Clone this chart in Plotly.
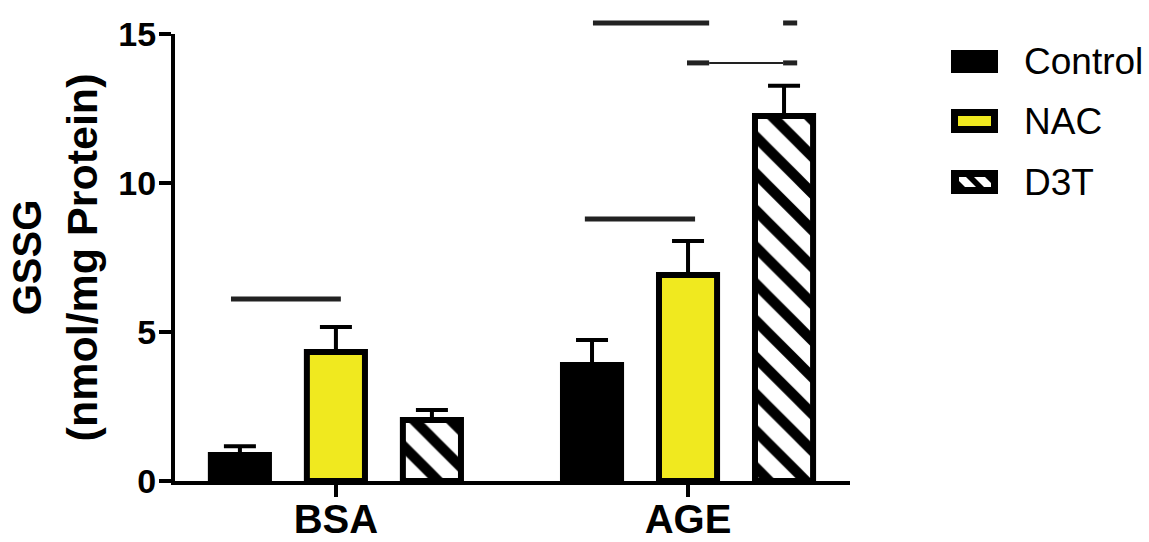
import plotly.graph_objects as go

# ---- data -------------------------------------------------------------
groups = ["BSA", "AGE"]
series = ["Control", "NAC", "D3T"]

mean_control = [0.87, 3.89]
mean_nac = [4.33, 6.91]
mean_d3t = [2.05, 12.25]

sem_control = [0.30, 0.84]
sem_nac = [0.84, 1.14]
sem_d3t = [0.33, 1.01]

y_ticks = [0, 5, 10, 15]

# comparison bars: (x start, x end) in category units, y in data units, line width
bracket_x0 = [-0.298, 0.707, 0.730, 1.270, 0.997, 1.060, 1.270]
bracket_x1 = [0.014, 1.020, 1.060, 1.310, 1.060, 1.270, 1.310]
bracket_y = [6.11, 8.79, 15.37, 15.37, 14.03, 14.03, 14.03]
bracket_w = [5, 5, 5, 5, 5, 2, 5]

# ---- style ------------------------------------------------------------
FONT = "Arial, 'Liberation Sans', Helvetica, sans-serif"
YELLOW = "#F0E91F"
X_RANGE = [-0.457, 1.460]
Y_RANGE = [0, 15]
W, H = 1149, 542
M_L, M_R, M_T, M_B = 175, 299, 34, 61
PLOT_W = W - M_L - M_R
PLOT_H = H - M_T - M_B


def x_paper(v):
    return (v - X_RANGE[0]) / (X_RANGE[1] - X_RANGE[0])


def y_paper(v):
    return (v - Y_RANGE[0]) / (Y_RANGE[1] - Y_RANGE[0])


def px_x(px):
    return (px - M_L) / PLOT_W


def px_y(py):
    return (H - M_B - py) / PLOT_H


def err(vals):
    return dict(type="data", array=vals, arrayminus=[0] * len(vals),
                symmetric=False, color="black", thickness=4, width=16)


fig = go.Figure()
fig.add_bar(x=groups, y=mean_control, name=series[0],
            marker=dict(color="black", line=dict(color="black", width=6)),
            error_y=err(sem_control))
fig.add_bar(x=groups, y=mean_nac, name=series[1],
            marker=dict(color=YELLOW, line=dict(color="black", width=6)),
            error_y=err(sem_nac))
fig.add_bar(x=groups, y=mean_d3t, name=series[2],
            marker=dict(color="white", line=dict(color="black", width=6),
                        pattern=dict(shape="\\", fgcolor="black", bgcolor="white",
                                     fgopacity=1, size=26, solidity=0.4,
                                     fillmode="replace")),
            error_y=err(sem_d3t))

# significance bars, placed in paper space so they can sit above the axis top
shapes = []
for x0, x1, yv, lw in zip(bracket_x0, bracket_x1, bracket_y, bracket_w):
    shapes.append(dict(type="line", xref="paper", yref="paper",
                       x0=x_paper(x0), x1=x_paper(x1),
                       y0=y_paper(yv), y1=y_paper(yv),
                       line=dict(color="#222222", width=lw)))

# ---- legend (drawn by hand for large swatches) ------------------------
sw_x0, sw_x1 = 951, 998
sw_rows = [(50, 73), (109, 133), (170, 194)]
annotations = []


def rect(x0, y0, x1, y1, fill, lw=0):
    return dict(type="rect", xref="paper", yref="paper",
                x0=px_x(x0), x1=px_x(x1), y0=px_y(y1), y1=px_y(y0),
                fillcolor=fill, line=dict(color="black", width=lw))


def clip_poly(poly, xmin, ymin, xmax, ymax):
    def clip(pts, inside, inter):
        out = []
        for i in range(len(pts)):
            a, b = pts[i - 1], pts[i]
            if inside(b):
                if not inside(a):
                    out.append(inter(a, b))
                out.append(b)
            elif inside(a):
                out.append(inter(a, b))
        return out

    def ix(xc):
        return lambda a, b: (xc, a[1] + (b[1] - a[1]) * (xc - a[0]) / (b[0] - a[0]))

    def iy(yc):
        return lambda a, b: (a[0] + (b[0] - a[0]) * (yc - a[1]) / (b[1] - a[1]), yc)

    pts = clip(poly, lambda p: p[0] >= xmin, ix(xmin))
    pts = clip(pts, lambda p: p[0] <= xmax, ix(xmax))
    pts = clip(pts, lambda p: p[1] >= ymin, iy(ymin))
    pts = clip(pts, lambda p: p[1] <= ymax, iy(ymax))
    return pts


# Control
r0 = sw_rows[0]
shapes.append(rect(sw_x0, r0[0], sw_x1, r0[1], "black"))
# NAC
r1 = sw_rows[1]
shapes.append(rect(sw_x0 + 3.5, r1[0] + 3.5, sw_x1 - 3.5, r1[1] - 3.5, YELLOW, 7))
# D3T: black frame with white diagonal bands
r2 = sw_rows[2]
shapes.append(rect(sw_x0, r2[0], sw_x1, r2[1], "black"))
ix0, ix1, iy0, iy1 = sw_x0 + 8, sw_x1 - 7, r2[0] + 7, r2[1] - 7
for start in (ix0 - 4, ix0 + 15, ix0 + 34):
    hgt = iy1 - iy0
    band = [(start, iy0), (start + 11, iy0), (start + 11 + hgt, iy1), (start + hgt, iy1)]
    pts = clip_poly(band, ix0, iy0, ix1, iy1)
    if len(pts) >= 3:
        path = "M " + " L ".join(f"{px_x(px):.5f},{px_y(py):.5f}" for px, py in pts) + " Z"
        shapes.append(dict(type="path", xref="paper", yref="paper", path=path,
                           fillcolor="white", line=dict(width=0)))

for name, (ya, yb) in zip(series, sw_rows):
    annotations.append(dict(xref="paper", yref="paper", x=px_x(1022), y=px_y((ya + yb) / 2),
                            text=name, showarrow=False, xanchor="left", yanchor="middle",
                            font=dict(family=FONT, size=37, color="black")))

fig.update_layout(
    width=W, height=H,
    margin=dict(l=M_L, r=M_R, t=M_T, b=M_B),
    plot_bgcolor="white", paper_bgcolor="white",
    barmode="group", bargap=0.182, bargroupgap=0.395,
    showlegend=False,
    font=dict(family=FONT, color="black"),
    shapes=shapes, annotations=annotations,
)
fig.update_xaxes(range=X_RANGE, showline=True, linecolor="black", linewidth=4,
                 ticks="outside", ticklen=12, tickwidth=4, tickcolor="black",
                 ticklabelstandoff=-12, automargin=False,
                 tickfont=dict(family=FONT, size=40, weight="bold", color="black"),
                 showgrid=False, zeroline=False)
fig.update_yaxes(range=Y_RANGE, tickvals=y_ticks, showline=True, linecolor="black", linewidth=4,
                 ticks="outside", ticklen=12, tickwidth=4, tickcolor="black",
                 ticklabelstandoff=-4, automargin=False,
                 tickfont=dict(family=FONT, size=34, weight="bold", color="black"),
                 showgrid=False, zeroline=False,
                 title=dict(text="<span style='font-size:40px'>GSSG</span><br>(nmol/mg Protein)",
                            standoff=8,
                            font=dict(family=FONT, size=43, weight="bold", color="black")))

fig.write_html("out.html")
